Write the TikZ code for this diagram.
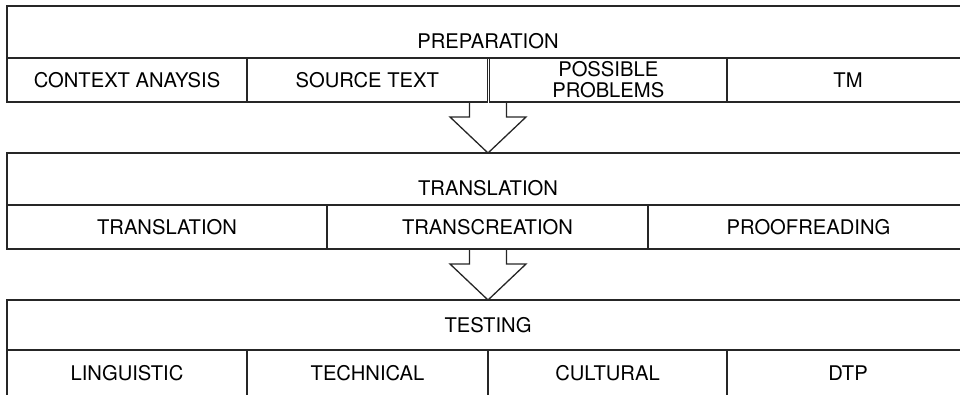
\documentclass[tikz,border=0pt]{standalone}
\usepackage{fontspec}
\setmainfont{TeX Gyre Heros}
\usetikzlibrary{positioning}
\tikzset{
  box/.style={draw=black!85, line width=1.3pt, outer sep=0pt, inner sep=0pt, align=center},
  hdr/.style={box, minimum width=962pt, minimum height=52pt, anchor=north west},
  cell/.style={box, minimum height=44pt},
  blockarrow/.style={draw=black!85, line width=1.3pt, line join=miter}
}
\begin{document}
\begin{tikzpicture}[x=1pt,y=-1pt,every node/.style={font=\fontsize{20.2}{21}\selectfont}]
\useasboundingbox (0,0) rectangle (960,394);
\clip (0,0) rectangle (960,394);
\node[hdr] (prep) at (7,6) {};
\node[anchor=base] at ([yshift=10pt]prep.south) {PREPARATION};
\node[cell, minimum width=240pt, below right=0pt and 0pt of prep.south west] (ctx) {CONTEXT ANAYSIS};
\node[cell, minimum width=240.5pt, right=0pt of ctx] (src) {SOURCE TEXT};
\node[cell, minimum width=237.5pt, right=2pt of src] (prob) {POSSIBLE\\PROBLEMS};
\node[cell, minimum width=242pt, right=0pt of prob] (tm) {TM};
\node[hdr, below right=51pt and 0pt of ctx.south west] (trans) {};
\node[anchor=base] at ([yshift=10pt]trans.south) {TRANSLATION};
\node[cell, minimum width=320pt, below right=0pt and 0pt of trans.south west] (tl) {TRANSLATION};
\node[cell, minimum width=321pt, right=0pt of tl] (tc) {TRANSCREATION};
\node[cell, minimum width=321pt, right=0pt of tc] (proof) {PROOFREADING};
\node[hdr, minimum height=50pt, below right=51pt and 0pt of tl.south west] (test) {};
\node[anchor=base] at ([yshift=18pt]test.south) {TESTING};
\node[cell, minimum height=46pt, minimum width=240pt, below right=0pt and 0pt of test.south west] (ling) {LINGUISTIC};
\node[cell, minimum height=46pt, minimum width=241pt, right=0pt of ling] (tech) {TECHNICAL};
\node[cell, minimum height=46pt, minimum width=239pt, right=0pt of tech] (cult) {CULTURAL};
\node[cell, minimum height=46pt, minimum width=242pt, right=0pt of cult] (dtp) {DTP};
\foreach \a/\b/\c in {ctx/prep/trans, tl/trans/test}
\draw[blockarrow] (\b.south |- \a.south) ++(-18.5,0) -- ++(0,15) -- ++(-19.5,0) -- (\c.north) -- ++(38,-36) -- ++(-19.5,0) -- ++(0,-15);
\end{tikzpicture}
\end{document}
